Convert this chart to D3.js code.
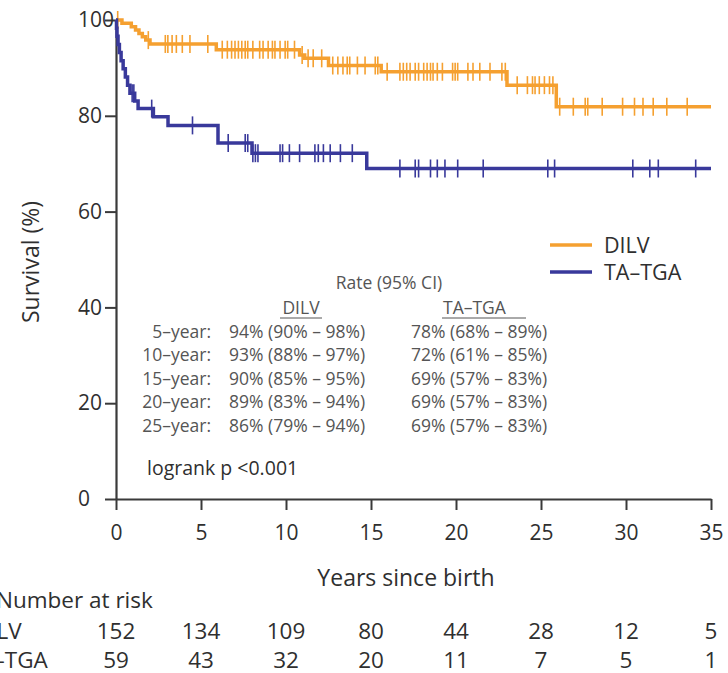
<!DOCTYPE html>
<html><head><meta charset="utf-8">
<script src="https://cdn.jsdelivr.net/npm/d3@7"></script>
<style>html,body{margin:0;padding:0;background:#fff;overflow:hidden}svg{display:block}</style>
</head><body>
<svg id="chart" width="728" height="673"></svg>
<script>
// ---------- DATA ----------
const seriesNames = ["DILV", "TA\u2013TGA"];
const dilvStepTimes = [0, 0.35, 0.9, 1.15, 1.35, 1.55, 1.75, 2.0, 5.9, 10.8, 11.1, 12.5, 15.6, 23.0, 25.9, 35];
const dilvStepSurv  = [100, 99.3, 98.6, 97.9, 97.2, 96.5, 95.8, 95.0, 93.8, 92.7, 92.0, 90.5, 89.2, 86.4, 81.9, 81.9];
const dilvCensor = [0.1, 1.9, 2.9, 3.05, 3.3, 3.55, 3.9, 4.35, 5.4, 6.25, 6.55, 6.8, 7.0, 7.2, 7.4, 7.6, 7.75, 8.05, 8.45, 8.65, 8.95, 9.2, 9.35, 9.65, 9.95, 10.1, 10.5, 10.95, 11.3, 11.6, 12.1, 12.75, 13.05, 13.35, 13.6, 13.75, 14.2, 14.65, 15.25, 15.4, 15.95, 16.7, 16.9, 17.1, 17.3, 17.6, 17.8, 18.1, 18.3, 18.5, 18.65, 18.9, 19.2, 19.8, 19.95, 20.1, 20.7, 21.0, 21.4, 22.0, 22.7, 22.9, 23.6, 24.2, 24.5, 24.65, 24.9, 25.2, 25.5, 25.7, 26.1, 26.9, 27.6, 27.75, 28.6, 29.8, 30.5, 31.0, 31.6, 32.4, 33.6];
const tgaStepTimes = [0, 0.03, 0.06, 0.12, 0.2, 0.3, 0.42, 0.55, 0.68, 0.82, 1.1, 1.3, 2.2, 3.06, 6.0, 8.0, 14.75, 35];
const tgaStepSurv  = [100, 98.3, 96.6, 94.9, 93.2, 91.5, 89.8, 88.1, 86.4, 84.7, 83.1, 81.5, 79.8, 78.0, 74.3, 72.2, 69.0, 69.0];
const tgaCensor = [0.95, 1.05, 2.1, 4.5, 6.6, 7.6, 7.75, 8.05, 8.2, 8.35, 9.65, 9.8, 10.2, 10.8, 11.7, 11.9, 12.2, 12.6, 13.2, 13.9, 16.7, 17.6, 17.8, 18.5, 18.9, 19.35, 20.1, 21.6, 25.4, 25.8, 30.4, 31.4, 31.9, 34.1];
const xTicks = [0, 5, 10, 15, 20, 25, 30, 35];
const yTicks = [0, 20, 40, 60, 80, 100];
const riskDILV = [152, 134, 109, 80, 44, 28, 12, 5];
const riskTGA  = [59, 43, 32, 20, 11, 7, 5, 1];
const rateRows = ["5\u2013year:", "10\u2013year:", "15\u2013year:", "20\u2013year:", "25\u2013year:"];
const rateDILV = ["94% (90% \u2013 98%)", "93% (88% \u2013 97%)", "90% (85% \u2013 95%)", "89% (83% \u2013 94%)", "86% (79% \u2013 94%)"];
const rateTGA  = ["78% (68% \u2013 89%)", "72% (61% \u2013 85%)", "69% (57% \u2013 83%)", "69% (57% \u2013 83%)", "69% (57% \u2013 83%)"];
const colors = ["#F5A030", "#39399B"];

// ---------- DRAW ----------
const FONT = "'Open Sans', 'Noto Sans', sans-serif";
const svg = d3.select("#chart").style("font-family", FONT);
const x = d3.scaleLinear().domain([0, 35]).range([116, 711]);
const y = d3.scaleLinear().domain([0, 100]).range([499, 20]);
const axisCol = "#3a3a3a", textCol = "#2f2f2f", tableCol = "#555";

// axes
const xAxis = svg.append("g").attr("transform", "translate(0,499)")
  .call(d3.axisBottom(x).tickValues(xTicks).tickSize(11).tickPadding(15).tickSizeOuter(0));
const yAxis = svg.append("g").attr("transform", "translate(116,0)")
  .call(d3.axisLeft(y).tickValues(yTicks).tickSize(11).tickPadding(8).tickSizeOuter(0));
[xAxis, yAxis].forEach(a => {
  a.select(".domain").attr("stroke", axisCol).attr("stroke-width", 2.2);
  a.selectAll(".tick line").attr("stroke", axisCol).attr("stroke-width", 2);
  a.selectAll("text").attr("fill", textCol).style("font-family", FONT).style("font-size", "21px");
});
yAxis.selectAll("text").attr("text-anchor", "start").attr("x", -38);

svg.append("text").attr("transform", "translate(39,262) rotate(-90)").attr("text-anchor", "middle")
  .attr("fill", textCol).style("font-size", "23px").text("Survival (%)");
svg.append("text").attr("x", 406).attr("y", 586).attr("text-anchor", "middle")
  .attr("fill", textCol).style("font-size", "23px").text("Years since birth");

// curves
function stepData(ts, ss) { return ts.map((t, i) => [t, ss[i]]); }
function survAt(ts, ss, t) { let v = ss[0]; for (let i = 0; i < ts.length; i++) if (ts[i] <= t) v = ss[i]; return v; }
const line = d3.line().x(d => x(d[0])).y(d => y(d[1])).curve(d3.curveStepAfter);
const series = [
  {ts: dilvStepTimes, ss: dilvStepSurv, cens: dilvCensor, col: colors[0]},
  {ts: tgaStepTimes, ss: tgaStepSurv, cens: tgaCensor, col: colors[1]}
];
series.forEach(s => {
  svg.append("path").datum(stepData(s.ts, s.ss)).attr("d", line)
    .attr("fill", "none").attr("stroke", s.col).attr("stroke-width", 3.5);
  svg.append("g").selectAll("line").data(s.cens).join("line")
    .attr("x1", d => x(d)).attr("x2", d => x(d))
    .attr("y1", d => y(survAt(s.ts, s.ss, d)) - 9).attr("y2", d => y(survAt(s.ts, s.ss, d)) + 9)
    .attr("stroke", s.col).attr("stroke-width", 1.6);
});

// legend
seriesNames.forEach((n, i) => {
  const ly = 245 + i * 27;
  svg.append("line").attr("x1", 550).attr("x2", 592).attr("y1", ly).attr("y2", ly)
    .attr("stroke", colors[i]).attr("stroke-width", 3.5);
  svg.append("text").attr("x", 604).attr("y", ly + 8).attr("fill", textCol)
    .style("font-size", "21.5px").text(n);
});

// rate table
const tf = "17.5px";
svg.append("text").attr("x", 389).attr("y", 289).attr("text-anchor", "middle")
  .attr("fill", tableCol).style("font-size", tf).text("Rate (95% CI)");
svg.append("text").attr("x", 301).attr("y", 314).attr("text-anchor", "middle")
  .attr("fill", tableCol).style("font-size", tf).text(seriesNames[0]);
svg.append("line").attr("x1", 280).attr("x2", 322).attr("y1", 318).attr("y2", 318).attr("stroke", tableCol).attr("stroke-width", 1);
svg.append("text").attr("x", 443).attr("y", 314).attr("text-anchor", "start")
  .attr("fill", tableCol).style("font-size", tf).text(seriesNames[1]);
svg.append("line").attr("x1", 442).attr("x2", 526).attr("y1", 318).attr("y2", 318).attr("stroke", tableCol).attr("stroke-width", 1);
rateRows.forEach((r, i) => {
  const ry = 338 + i * 23.4;
  svg.append("text").attr("x", 211).attr("y", ry).attr("text-anchor", "end").attr("fill", tableCol).style("font-size", tf).text(r);
  svg.append("text").attr("x", 229).attr("y", ry).attr("fill", tableCol).style("font-size", tf).text(rateDILV[i]);
  svg.append("text").attr("x", 411).attr("y", ry).attr("fill", tableCol).style("font-size", tf).text(rateTGA[i]);
});
svg.append("text").attr("x", 147).attr("y", 475).attr("fill", textCol).style("font-size", "19.5px").text("logrank p <0.001");

// number at risk
svg.append("text").attr("x", -4).attr("y", 608).attr("fill", textCol).style("font-size", "22.5px").text("Number at risk");
[[riskDILV, 639, seriesNames[0], -26], [riskTGA, 668, seriesNames[1], -33]].forEach(([vals, ry, name, lx]) => {
  svg.append("text").attr("x", lx).attr("y", ry).attr("fill", textCol).style("font-size", "22.5px").text(name);
  svg.append("g").selectAll("text").data(vals).join("text")
    .attr("x", (d, i) => x(xTicks[i])).attr("y", ry).attr("text-anchor", "middle")
    .attr("fill", textCol).style("font-size", "22.5px").text(d => d);
});
</script>
</body></html>
